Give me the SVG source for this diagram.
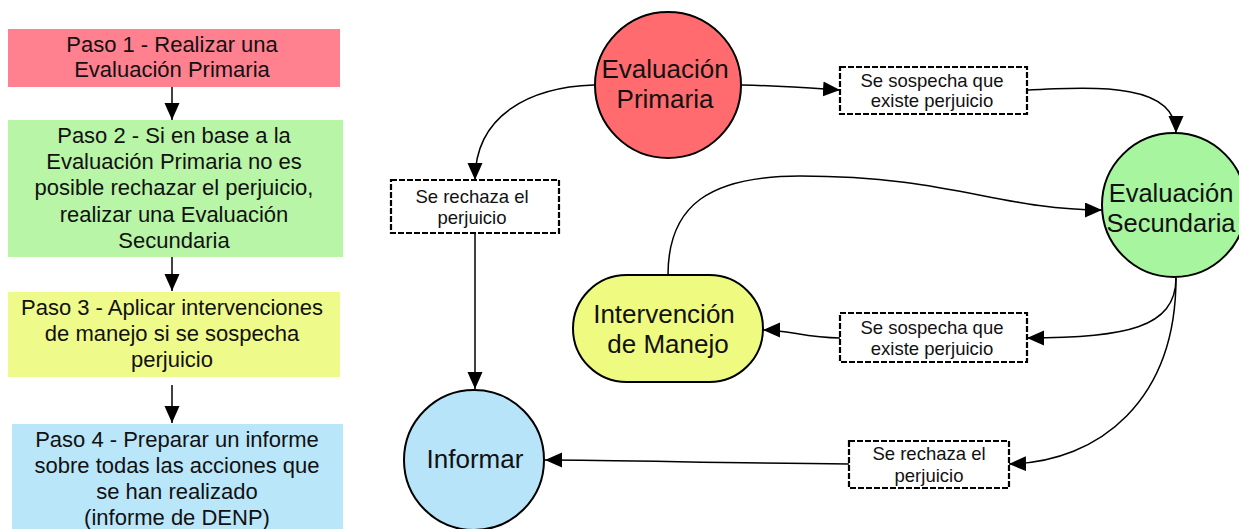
<svg xmlns="http://www.w3.org/2000/svg" width="1239" height="529" viewBox="0 0 1239 529">
<style>
text{font-family:"Liberation Sans",Arial,Helvetica,sans-serif;fill:#111;text-anchor:middle}
.step{font-size:22px}
.big{font-size:26px}
.big2{font-size:25.5px}
.small{font-size:18.5px}
.conn{fill:none;stroke:#000;stroke-width:1.5}
.node{stroke:#000;stroke-width:2}
.dash{fill:#fff;stroke:#000;stroke-width:2.2;stroke-dasharray:6,2}
</style>
<defs>
<marker id="arr" markerUnits="userSpaceOnUse" markerWidth="18" markerHeight="16" refX="17" refY="7.5" orient="auto" viewBox="0 0 18 16">
<path d="M0,0 L17,7.5 L0,15 z" fill="#000"/>
</marker>
</defs>
<rect width="1239" height="529" fill="#fff"/>

<g id="step1">
<rect x="8" y="29" width="332" height="58" fill="#FF808F"/>
<text class="step" x="172" y="52">Paso 1 - Realizar una</text>
<text class="step" x="172" y="77">Evaluación Primaria</text>
</g>
<g id="step2">
<rect x="8" y="120" width="335" height="137" fill="#B8F5A6"/>
<text class="step" x="174" y="143">Paso 2 - Si en base a la</text>
<text class="step" x="174" y="169">Evaluación Primaria no es</text>
<text class="step" x="174" y="195">posible rechazar el perjuicio,</text>
<text class="step" x="174" y="222">realizar una Evaluación</text>
<text class="step" x="174" y="248">Secundaria</text>
</g>
<g id="step3">
<rect x="8" y="292" width="332" height="85" fill="#EEFA8A"/>
<text class="step" x="172" y="315">Paso 3 - Aplicar intervenciones</text>
<text class="step" x="172" y="341">de manejo si se sospecha</text>
<text class="step" x="172" y="367">perjuicio</text>
</g>
<g id="step4">
<rect x="12" y="424" width="331" height="106" fill="#BAE6FA"/>
<text class="step" x="177" y="447">Paso 4 - Preparar un informe</text>
<text class="step" x="177" y="473">sobre todas las acciones que</text>
<text class="step" x="177" y="499">se han realizado</text>
<text class="step" x="177" y="525">(informe de DENP)</text>
</g>

<g id="connectors">
<path class="conn" d="M172,87 L172,120" marker-end="url(#arr)"/>
<path class="conn" d="M172,257 L172,291" marker-end="url(#arr)"/>
<path class="conn" d="M172,385 L172,423" marker-end="url(#arr)"/>
<path class="conn" d="M742,85 C785,86 810,88 840,90" marker-end="url(#arr)"/>
<path class="conn" d="M1027,90 C1095,87 1176,82 1176,133" marker-end="url(#arr)"/>
<path class="conn" d="M594,85 C530,87 475,115 475,180" marker-end="url(#arr)"/>
<path class="conn" d="M475,233 L475,389" marker-end="url(#arr)"/>
<path class="conn" d="M668,275 C668,205 710,176 800,176 C950,176 1000,210 1102,210" marker-end="url(#arr)"/>
<path class="conn" d="M1176,278 C1176,328 1125,338 1027,338" marker-end="url(#arr)"/>
<path class="conn" d="M840,338 C805,338 790,330 763,330" marker-end="url(#arr)"/>
<path class="conn" d="M1176,278 C1176,400 1100,462 1009,464" marker-end="url(#arr)"/>
<path class="conn" d="M849,464 C720,463 620,460 545,460" marker-end="url(#arr)"/>
</g>

<g id="primaria">
<circle class="node" cx="668" cy="85" r="73" fill="#FF6B6E"/>
<text class="big" x="665" y="78">Evaluación</text>
<text class="big" x="665" y="108">Primaria</text>
</g>
<g id="secundaria">
<circle class="node" cx="1174" cy="205" r="72" fill="#A8F5A0"/>
<text class="big2" x="1171" y="202">Evaluación</text>
<text class="big2" x="1171" y="232">Secundaria</text>
</g>
<g id="intervencion">
<rect class="node" x="573" y="275" width="190" height="107" rx="53.5" ry="53.5" fill="#EEFA80"/>
<text class="big" x="664" y="323">Intervención</text>
<text class="big" x="668" y="353">de Manejo</text>
</g>
<g id="informar">
<circle class="node" cx="474" cy="460" r="70" fill="#B8E4FA"/>
<text class="big" x="475" y="468">Informar</text>
</g>
<g id="sospecha1">
<rect class="dash" x="840" y="67" width="187" height="47"/>
<text class="small" x="932" y="87">Se sospecha que</text>
<text class="small" x="932" y="107">existe perjuicio</text>
</g>
<g id="rechaza1">
<rect class="dash" x="391" y="180" width="168" height="53"/>
<text class="small" x="472" y="203">Se rechaza el</text>
<text class="small" x="472" y="224">perjuicio</text>
</g>
<g id="sospecha2">
<rect class="dash" x="840" y="313" width="187" height="49"/>
<text class="small" x="932" y="334">Se sospecha que</text>
<text class="small" x="932" y="355">existe perjuicio</text>
</g>
<g id="rechaza2">
<rect class="dash" x="849" y="441" width="160" height="47"/>
<text class="small" x="929" y="460">Se rechaza el</text>
<text class="small" x="929" y="482">perjuicio</text>
</g>
</svg>
